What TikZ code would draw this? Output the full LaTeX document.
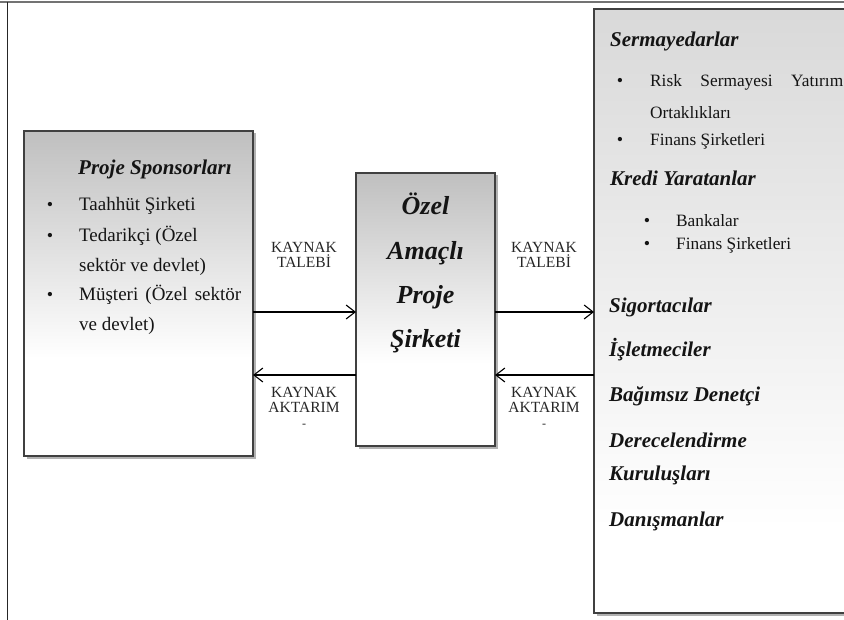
\documentclass[tikz,border=0pt]{standalone}
\usepackage{fontspec}
\setmainfont{Liberation Serif}
\usetikzlibrary{arrows.meta,shadows}
\pgfdeclareverticalshading{boxfade}{100bp}{color(0bp)=(white); color(25bp)=(white); color(40bp)=(white); color(75bp)=(black!25); color(100bp)=(black!25)}
\pgfdeclareverticalshading{rightfade}{100bp}{color(0bp)=(white); color(25bp)=(white); color(32bp)=(white); color(75bp)=(black!15); color(100bp)=(black!15)}
\tikzset{
  box/.style={draw=black!75, line width=1.3pt, inner sep=0pt, outer sep=0pt, anchor=north west,
    drop shadow={shadow xshift=2.5pt, shadow yshift=-2.5pt, opacity=0.3, fill=black}},
  txt/.style={anchor=base west, inner sep=0pt, text=black!92},
  bul/.style={anchor=base, inner sep=0pt, text=black!92, font=\fontsize{18}{18}\selectfont},
  head/.style={txt, font=\fontsize{21}{23}\selectfont\bfseries\itshape},
  item/.style={txt, font=\fontsize{19}{21}\selectfont},
  ritem/.style={txt, font=\fontsize{17.3}{19}\selectfont},
  big/.style={anchor=base, inner sep=0pt, text=black!92, font=\fontsize{26}{28}\selectfont\bfseries\itshape},
  lbl/.style={anchor=base, inner sep=0pt, text=black!85, font=\fontsize{15.5}{15.5}\selectfont},
  arr/.style={line width=1.1pt, -{Straight Barb[length=9pt,width=14pt,line width=1.1pt]}}
}
\begin{document}
\begin{tikzpicture}[x=1pt,y=-1pt]
\useasboundingbox (0,0) rectangle (844,620);
\clip (0,0) rectangle (844,620);
% outer frame
\coordinate (ftl) at (7,2);
\coordinate (ftr) at (844,2);
\coordinate (fbl) at (7,622);
\draw[black!55, line width=2pt] (0,2) -- (ftr);
\draw[black!85, line width=1pt] (ftl) -- (fbl);
% boxes
\node[box, shading=boxfade, minimum width=229pt, minimum height=325pt] (left) at (24,131) {};
\node[box, shading=boxfade, minimum width=139pt, minimum height=273pt] (mid) at (356,173) {};
\node[box, shading=rightfade, minimum width=262pt, minimum height=604pt] (right) at (594,9) {};
% left box text
\node[head] (lh) at (78,175) {Proje Sponsorları};
\node[bul] (lb1) at (50,211) {\textbullet};
\node[item] (l1) at (79,211) {Taahhüt Şirketi};
\node[bul] (lb2) at (50,242) {\textbullet};
\node[item] (l2) at (79,242) {Tedarikçi (Özel};
\node[item] (l3) at (79,272) {sektör ve devlet)};
\node[bul] (lb3) at (50,301) {\textbullet};
\node[item] (l4) at (79,301) {\hbox to 162pt{Müşteri\hfill(Özel\hfill sektör}};
\node[item] (l5) at (79,331) {ve devlet)};
% middle box text
\node[big] (m1) at (425.5,215) {Özel};
\node[big] (m2) at (425.5,260) {Amaçlı};
\node[big] (m3) at (425.5,304) {Proje};
\node[big] (m4) at (425.5,348) {Şirketi};
% right box text
\node[head] (r1) at (610,47) {Sermayedarlar};
\node[bul] (rb1) at (620,87) {\textbullet};
\node[ritem] (r2) at (650,87) {\hbox to 193pt{Risk\hfill Sermayesi\hfill Yatırım}};
\node[ritem] (r3) at (650,119) {Ortaklıkları};
\node[bul] (rb2) at (620,146) {\textbullet};
\node[ritem] (r4) at (650,146) {Finans Şirketleri};
\node[head] (r5) at (610,186) {Kredi Yaratanlar};
\node[bul] (rb3) at (647,227) {\textbullet};
\node[ritem] (r6) at (676,227) {Bankalar};
\node[bul] (rb4) at (647,250) {\textbullet};
\node[ritem] (r7) at (676,250) {Finans Şirketleri};
\node[head] (r8) at (609,313) {Sigortacılar};
\node[head] (r9) at (609,357) {İşletmeciler};
\node[head] (r10) at (609,402) {Bağımsız Denetçi};
\node[head] (r11) at (609,447) {Derecelendirme};
\node[head] (r12) at (609,480) {Kuruluşları};
\node[head] (r13) at (609,526) {Danışmanlar};
% arrows
\coordinate (ya) at (0,312);
\coordinate (yb) at (0,375);
\draw[arr] (left.east |- ya) -- (mid.west |- ya);
\draw[arr] (mid.west |- yb) -- (left.east |- yb);
\draw[arr] (mid.east |- ya) -- (right.west |- ya);
\draw[arr] (right.west |- yb) -- (mid.east |- yb);
% labels
\node[lbl] (k1) at (304,253) {KAYNAK};
\node[lbl] (k2) at (304,268) {TALEBİ};
\node[lbl] (k3) at (544,253) {KAYNAK};
\node[lbl] (k4) at (544,268) {TALEBİ};
\node[lbl] (k5) at (304,398) {KAYNAK};
\node[lbl] (k6) at (304,413) {AKTARIM};
\node[lbl, font=\fontsize{12}{12}\selectfont] (k7) at (304,428) {-};
\node[lbl] (k8) at (544,398) {KAYNAK};
\node[lbl] (k9) at (544,413) {AKTARIM};
\node[lbl, font=\fontsize{12}{12}\selectfont] (k10) at (544,428) {-};
\end{tikzpicture}
\end{document}
